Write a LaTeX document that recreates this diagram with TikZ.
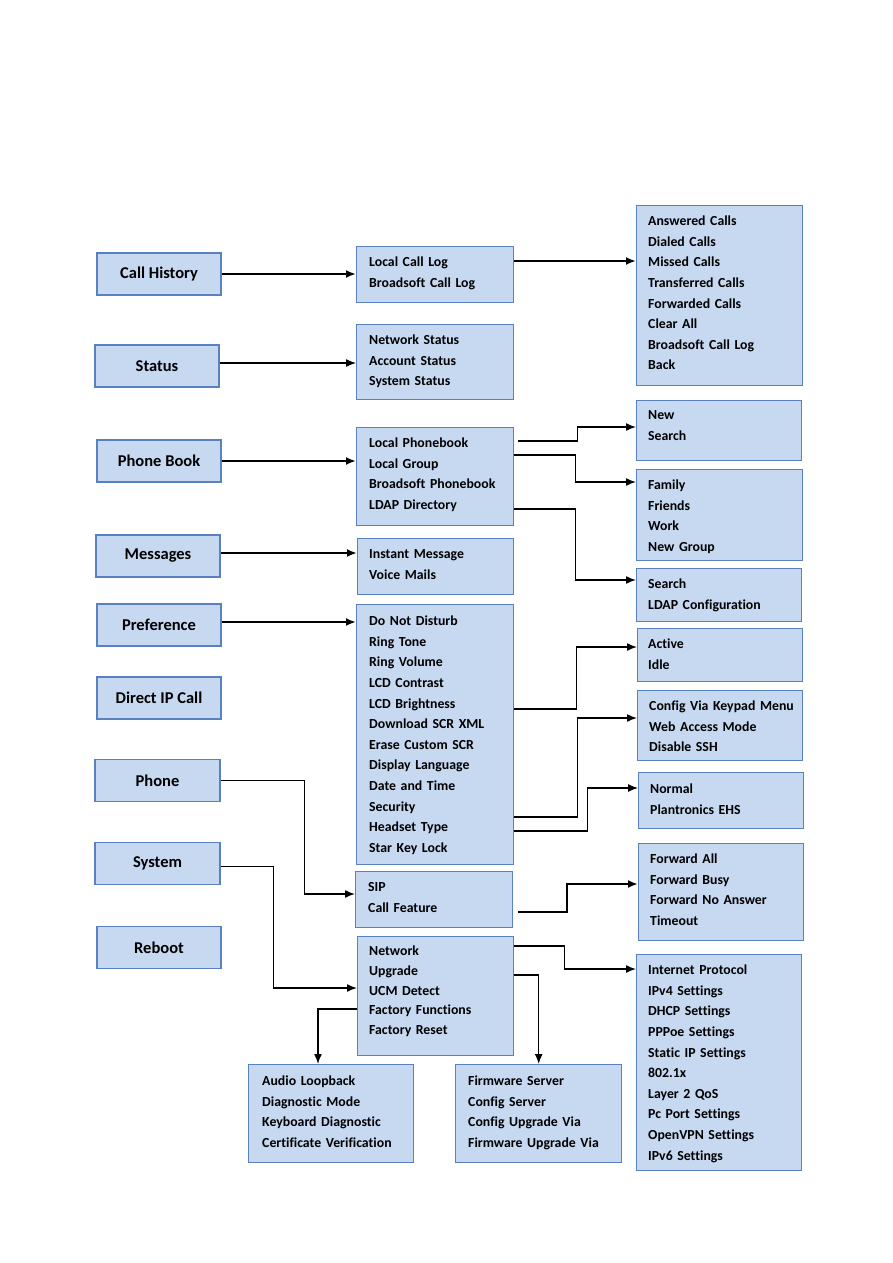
\documentclass[tikz,border=0pt]{standalone}
\usepackage{fontspec}
\setmainfont{Carlito}[Ligatures=NoCommon]
\usetikzlibrary{arrows.meta,positioning,calc}
\definecolor{boxfill}{HTML}{C6D9F1}
\definecolor{boxline}{HTML}{5A81BF}

\begin{document}
\begin{tikzpicture}[
      x=1pt, y=-1pt,
      menu/.style={rectangle, draw=boxline, fill=boxfill, line width=1.4pt, minimum width=124pt, minimum height=42pt, inner sep=0pt, font=\fontsize{16.5}{20}\selectfont\bfseries},
      listbox/.style={rectangle, draw=boxline, fill=boxfill, line width=1.4pt, anchor=north west, inner sep=0pt},
      items/.style={anchor=north west, inner sep=0pt, align=left, text width=152pt, font=\fontsize{13.8}{20.6}\selectfont\bfseries, execute at begin node=\strut},
      arrow/.style={-{Latex[length=10pt,width=8pt]}, line width=2pt},
      thinarrow/.style={-{Latex[length=10pt,width=8pt]}, line width=1.3pt}
  ]
  \useasboundingbox (0,0) rectangle (893,1263);
  \fill[white] (0,0) rectangle (893,1263);

  % Main menu
  \node (callHistory) [menu] at (159,274) {Call History};
  \node (status) [menu] at (157,366) {Status};
  \node (phoneBook) [menu] at (159,461) {Phone Book};
  \node (messages) [menu] at (158,556) {Messages};
  \node (preference) [menu] at (159,625) {Preference};
  \node (directIP) [menu] at (159,698) {Direct IP Call};
  \node (phone) [menu, minimum width=125pt] at (157.5,780.5) {Phone};
  \node (system) [menu, minimum width=125pt] at (157.5,863.5) {System};
  \node (reboot) [menu] at (159,947.5) {Reboot};

  % Sub menus
  \node (callLogBox) [listbox, minimum width=157pt, minimum height=56pt] at (356,246) {};
  \node (callLogText) [items] at ($(callLogBox.north west)+(13,6)$) {Local Call Log\\Broadsoft Call Log};
  \node (statusBox) [listbox, minimum width=157pt, minimum height=75pt] at (356,324) {};
  \node (statusText) [items] at ($(statusBox.north west)+(13,6)$) {Network Status\\Account Status\\System Status};
  \node (phoneBookBox) [listbox, minimum width=157pt, minimum height=98pt] at (356,427) {};
  \node (phoneBookText) [items] at ($(phoneBookBox.north west)+(13,6)$) {Local Phonebook\\Local Group\\Broadsoft Phonebook\\LDAP Directory};
  \node (messagesBox) [listbox, minimum width=156pt, minimum height=56pt] at (357,538) {};
  \node (messagesText) [items] at ($(messagesBox.north west)+(12,6)$) {Instant Message\\Voice Mails};
  \node (preferenceBox) [listbox, minimum width=157pt, minimum height=260pt] at (356,604) {};
  \node (preferenceText) [items] at ($(preferenceBox.north west)+(13,7)$) {Do Not Disturb\\Ring Tone\\Ring Volume\\LCD Contrast\\LCD Brightness\\Download SCR XML\\Erase Custom SCR\\Display Language\\Date and Time\\Security\\Headset Type\\Star Key Lock};
  \node (phoneBox) [listbox, minimum width=157pt, minimum height=56pt] at (355,871) {};
  \node (phoneText) [items] at ($(phoneBox.north west)+(13,6)$) {SIP\\Call Feature};
  \node (systemBox) [listbox, minimum width=156pt, minimum height=119pt] at (357,936) {};
  \node (systemText) [items, font=\fontsize{13.8}{19.8}\selectfont\bfseries] at ($(systemBox.north west)+(12,5.5)$) {Network\\Upgrade\\UCM Detect\\Factory Functions\\Factory Reset};

  % Third level
  \node (callsBox) [listbox, minimum width=166pt, minimum height=180pt] at (636,205) {};
  \node (callsText) [items] at ($(callsBox.north west)+(12,6)$) {Answered Calls\\Dialed Calls\\Missed Calls\\Transferred Calls\\Forwarded Calls\\Clear All\\Broadsoft Call Log\\Back};
  \node (pbLocalBox) [listbox, minimum width=165pt, minimum height=60pt] at (636,400) {};
  \node (pbLocalText) [items] at ($(pbLocalBox.north west)+(12,5)$) {New\\Search};
  \node (groupBox) [listbox, minimum width=166pt, minimum height=91pt] at (636,469) {};
  \node (groupText) [items] at ($(groupBox.north west)+(12,6)$) {Family\\Friends\\Work\\New Group};
  \node (ldapBox) [listbox, minimum width=165pt, minimum height=53pt] at (636,568) {};
  \node (ldapText) [items] at ($(ldapBox.north west)+(12,6)$) {Search\\LDAP Configuration};
  \node (backlightBox) [listbox, minimum width=165pt, minimum height=53pt] at (637,628) {};
  \node (backlightText) [items] at ($(backlightBox.north west)+(11,6)$) {Active\\Idle};
  \node (securityBox) [listbox, minimum width=165pt, minimum height=70pt] at (637,690) {};
  \node (securityText) [items] at ($(securityBox.north west)+(12,6)$) {Config Via Keypad Menu\\Web Access Mode\\Disable SSH};
  \node (headsetBox) [listbox, minimum width=165pt, minimum height=56pt] at (638,772) {};
  \node (headsetText) [items] at ($(headsetBox.north west)+(12,7)$) {Normal\\Plantronics EHS};
  \node (callFeatureBox) [listbox, minimum width=165pt, minimum height=97pt] at (638,843) {};
  \node (callFeatureText) [items] at ($(callFeatureBox.north west)+(12,6)$) {Forward All\\Forward Busy\\Forward No Answer\\Timeout};
  \node (networkBox) [listbox, minimum width=165pt, minimum height=216pt] at (636,954) {};
  \node (networkText) [items] at ($(networkBox.north west)+(12,6)$) {Internet Protocol\\IPv4 Settings\\DHCP Settings\\PPPoe Settings\\Static IP Settings\\802.1x\\Layer 2 QoS\\Pc Port Settings\\OpenVPN Settings\\IPv6 Settings};
  \node (factoryBox) [listbox, minimum width=165pt, minimum height=98pt] at (248,1064) {};
  \node (factoryText) [items] at ($(factoryBox.north west)+(14,7)$) {Audio Loopback\\Diagnostic Mode\\Keyboard Diagnostic\\Certificate Verification};
  \node (upgradeBox) [listbox, minimum width=166pt, minimum height=98pt] at (455,1064) {};
  \node (upgradeText) [items] at ($(upgradeBox.north west)+(13,7)$) {Firmware Server\\Config Server\\Config Upgrade Via\\Firmware Upgrade Via};

  % Arrows from main menu
  \draw [arrow] (callHistory.east) -- (callLogBox.west |- callHistory.east);
  \draw [thinarrow] ($(status.east)+(0,-3)$) -- (statusBox.west |- {$(status.east)+(0,-3)$});
  \draw [arrow] (phoneBook.east) -- (phoneBookBox.west |- phoneBook.east);
  \draw [arrow] ($(messages.east)+(0,-3)$) -- (messagesBox.west |- {$(messages.east)+(0,-3)$});
  \draw [arrow] ($(preference.east)+(0,-3)$) -- (preferenceBox.west |- {$(preference.east)+(0,-3)$});
  \draw [arrow, line width=1.5pt] (phone.east) -- ++(84,0) |- ($(phoneBox.north west)+(0,23)$);
  \draw [arrow, line width=1.5pt] ($(system.east)+(0,3)$) -- ++(53,0) |- ($(systemBox.north west)+(0,52)$);

  % Arrows to third level
  \draw [arrow] ($(callLogBox.north east)+(0,15)$) -- ($(callsBox.north west)+(0,56)$);
  \draw [arrow, line width=1.5pt] ($(phoneBookBox.north east)+(4,14)$) -- ++(59,0) |- ($(pbLocalBox.north west)+(0,27)$);
  \draw [arrow, line width=1.5pt] ($(phoneBookBox.north east)+(0,28)$) -- ++(61,0) |- ($(groupBox.north west)+(0,13)$);
  \draw [arrow, line width=1.5pt] ($(phoneBookBox.north east)+(0,82)$) -- ++(61,0) |- ($(ldapBox.north west)+(0,12)$);
  \draw [arrow, line width=1.5pt] ($(preferenceBox.north east)+(0,105)$) -- ++(62,0) |- ($(backlightBox.north west)+(0,19)$);
  \draw [arrow, line width=1.5pt] ($(preferenceBox.north east)+(0,213)$) -- ++(63,0) |- ($(securityBox.north west)+(0,28)$);
  \draw [arrow, line width=1.2pt] ($(preferenceBox.north east)+(0,227)$) -- ++(73,0) |- ($(headsetBox.north west)+(0,16)$);
  \draw [arrow] ($(phoneBox.north east)+(5,41)$) -- ++(49,0) |- ($(callFeatureBox.north west)+(0,41)$);
  \draw [arrow, line width=1.4pt] ($(systemBox.north east)+(0,10)$) -- ++(50,0) |- ($(networkBox.north west)+(0,15)$);
  \draw [arrow, line width=1.5pt] ($(systemBox.north east)+(0,39)$) -| (upgradeBox.north);
  \draw [arrow, line width=1.5pt] ($(systemBox.north west)+(0,73)$) -| ($(factoryBox.north west)+(70,0)$);

\end{tikzpicture}
\end{document}
